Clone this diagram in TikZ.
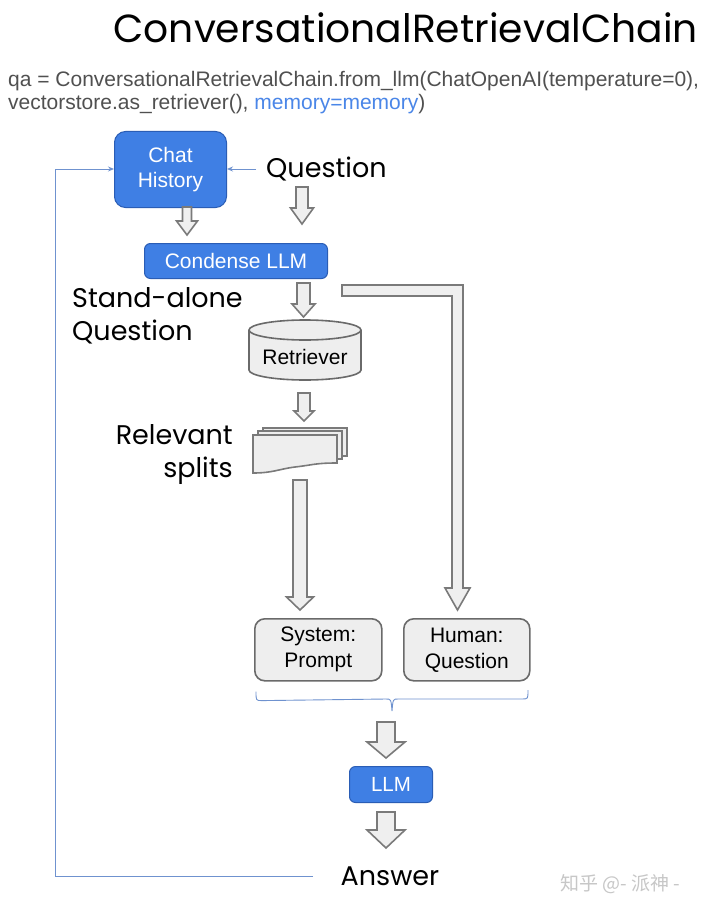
\documentclass[tikz,border=0pt]{standalone}
\usepackage{fontspec}
\setmainfont{Liberation Sans}
\newfontfamily\pop{Poppins}
\newfontfamily\cjk{Noto Sans CJK SC}
\usetikzlibrary{shapes.geometric,calc,arrows.meta}
\definecolor{gblue}{HTML}{3F7FE4}
\definecolor{gblueb}{HTML}{2A5DB5}
\definecolor{lblue}{HTML}{6F92CF}
\definecolor{codegray}{HTML}{505050}
\definecolor{codeblue}{HTML}{4A86E8}
\definecolor{arrgray}{HTML}{7A7A7A}
\definecolor{arrfill}{HTML}{EFEFEF}
\definecolor{boxfill}{HTML}{EEEEEE}
\definecolor{boxdraw}{HTML}{6A6A6A}
\tikzset{
  bluebox/.style={draw=gblueb, fill=gblue, line width=1pt, rounded corners=6pt, text=white, font=\fontsize{21}{25}\selectfont, align=center, inner sep=0pt},
  graybox/.style={draw=boxdraw, fill=boxfill, line width=1.6pt, rounded corners=10pt, font=\fontsize{21}{26}\selectfont, align=center, inner sep=0pt, minimum width=127pt, minimum height=62pt},
  hol/.style={draw=arrgray, fill=arrfill, line width=1.6pt, line join=miter},
  thinblue/.style={draw=lblue, line width=0.9pt},
  poptext/.style={font=\pop\fontsize{27}{33}\selectfont, inner sep=0pt},
  sheetst/.style={draw=arrgray, fill=boxfill, line width=1.6pt},
  cylst/.style={draw=boxdraw, fill=boxfill, line width=1.6pt}
}
% hollow vertical arrow between two named coordinates: #1 start, #2 tip, #3 half shaft, #4 half head, #5 head length
\newcommand\harr[5]{\draw[hol] let \p1=(#1), \p2=(#2) in
  (\x1-#3pt,\y1) -- (\x1+#3pt,\y1) -- (\x1+#3pt,\y2+#5pt) -- (\x1+#4pt,\y2+#5pt) -- (\x1,\y2)
  -- (\x1-#4pt,\y2+#5pt) -- (\x1-#3pt,\y2+#5pt) -- cycle;}
\newcommand\sheetat[2]{\draw[sheetst] (#1,#2) -- ++(84,0) -- ++(0,28)
  .. controls ++(-22,0) and ++(18,-2) .. ++(-42,4)
  .. controls ++(-16,2) and ++(20,0) .. ++(-42,6) -- cycle;}
\begin{document}
\begin{tikzpicture}[x=1pt,y=-1pt]
\useasboundingbox[fill=white] (0,0) rectangle (708,912);

% title and code
\node[font=\pop\fontsize{39.2}{44}\selectfont, anchor=base east, inner sep=0pt] (title) at (698,43) {ConversationalRetrievalChain};
\node[font=\fontsize{21}{24}\selectfont, text=codegray, anchor=base west, inner sep=0pt] (code1) at (8,87) {qa = ConversationalRetrievalChain.from\_llm(ChatOpenAI(temperature=0),};
\node[font=\fontsize{21}{24}\selectfont, text=codegray, anchor=base west, inner sep=0pt] (code2) at (8,110) {vectorstore.as\_retriever(), \textcolor{codeblue}{memory=memory})};

% nodes
\node[bluebox, minimum width=112pt, minimum height=76pt, rounded corners=11pt, anchor=north west] (chat) at (114,131) {Chat\\History};
\node[poptext, anchor=base west] (q) at (266,178) {Question};
\coordinate (qa) at (256,169);
\node[bluebox, minimum width=183pt, minimum height=35pt, anchor=north west] (cond) at (144,243) {Condense LLM};
\node[poptext, anchor=north west, align=left, font=\pop\fontsize{27}{33}\selectfont] (sa) at (72,287) {Stand-alone\\Question};

% retriever cylinder
\draw[cylst] (249,330) -- (249,370) arc[start angle=180, end angle=0, x radius=56, y radius=10] -- (361,330);
\draw[cylst] (305,330) ellipse[x radius=56, y radius=10];
\node[font=\fontsize{21}{25}\selectfont, inner sep=0pt, minimum width=112pt, minimum height=40pt] (ret) at (305,357) {Retriever};

\node[poptext, anchor=north east, align=right] (rs) at (233,424) {Relevant\\splits};

% document stack
\sheetat{263}{428}
\sheetat{258}{431}
\sheetat{253}{435}
\coordinate (stack) at (300,452);

\node[graybox, anchor=north west] (sys) at (254,618) {System:\\Prompt};
\node[graybox, anchor=north west, minimum width=126pt] (hum) at (403,618) {Human:\\Question};
\node[bluebox, minimum width=83pt, minimum height=36pt, anchor=north west, font=\fontsize{20.5}{25}\selectfont] (llm) at (349,766) {LLM};
\node[poptext, anchor=base] (ans) at (390,885) {Answer};
\node[font=\cjk\fontsize{19}{22}\selectfont, text=black!22, anchor=base west, inner sep=0pt] (wm) at (560,890) {知乎 @- 派神 -};

% hollow arrows
\coordinate (a1s) at (187,207); \coordinate (a1e) at (187,235);
\coordinate (a2s) at (302,187); \coordinate (a2e) at (302,224);
\coordinate (a3s) at (303.5,283); \coordinate (a3e) at (303.5,317);
\coordinate (a4s) at (304,393); \coordinate (a4e) at (304,421);
\coordinate (a5s) at (300,480); \coordinate (a5e) at (300,610);
\coordinate (a6s) at (386,722); \coordinate (a6e) at (386,758);
\coordinate (a7s) at (386,812); \coordinate (a7e) at (386,848);
\harr{a1s}{a1e}{4.5}{10.5}{14}
\harr{a2s}{a2e}{6}{11.5}{16}
\harr{a3s}{a3e}{6.5}{11.5}{13}
\harr{a4s}{a4e}{6}{10}{10}
\harr{a5s}{a5e}{7}{13.5}{13}
\harr{a6s}{a6e}{9}{19}{16}
\harr{a7s}{a7e}{9}{19}{18}

% L-shaped arrow from Condense LLM to Human: Question
\draw[hol] (342,285) -- (463,285) -- (463,588) -- (470,588) -- (457.5,610) -- (445,588) -- (452,588) -- (452,296) -- (342,296) -- cycle;

% thin blue connectors
\draw[thinblue, -{Stealth[length=6pt,width=5pt]}] (qa) -- (chat.east |- qa);
\coordinate (fb) at (313,876);
\draw[thinblue, -{Stealth[length=6pt,width=5pt]}] (fb) -- (55,876) -- (55,169) -- (chat.west |- qa);

% brace
\draw[thinblue] (sys.south west) ++(2,10) .. controls ++(0,9) .. ++(6,9) -- (386,699)
  .. controls (391,699) .. (392,711) .. controls (393,699) .. (398,699) -- (522,699)
  .. controls (528,699) .. (528,690);
\end{tikzpicture}
\end{document}
